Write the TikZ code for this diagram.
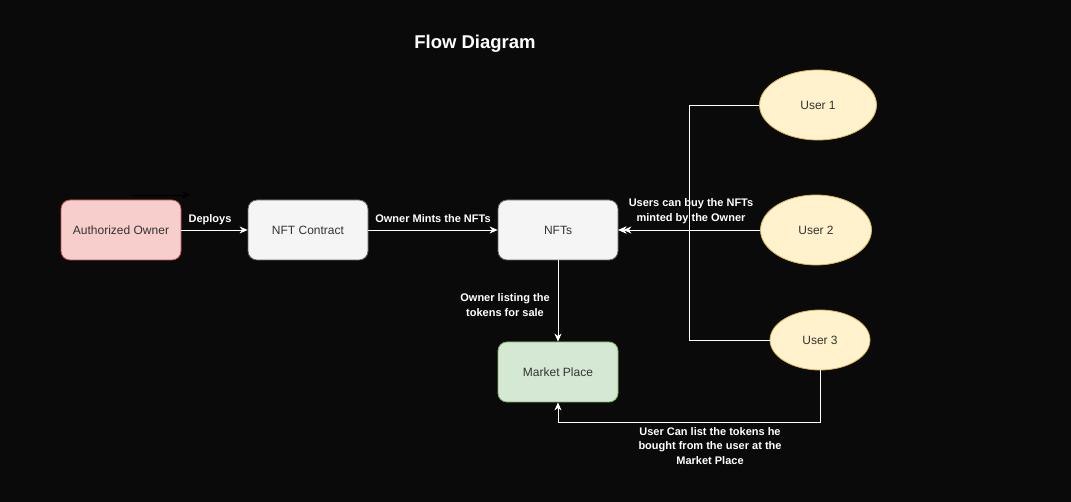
\documentclass[tikz,border=0pt]{standalone}
\usepackage{fontspec}
\setmainfont{Liberation Sans}
\usetikzlibrary{shapes.geometric,arrows.meta}
\definecolor{bg}{HTML}{0A0A0A}
\definecolor{redfill}{HTML}{F8CECC}
\definecolor{redline}{HTML}{B85450}
\definecolor{greyfill}{HTML}{F5F5F5}
\definecolor{greyline}{HTML}{666666}
\definecolor{greenfill}{HTML}{D5E8D4}
\definecolor{greenline}{HTML}{82B366}
\definecolor{yelfill}{HTML}{FFF2CC}
\definecolor{yelline}{HTML}{D6B656}
\definecolor{txt}{HTML}{333333}
\tikzset{
  box/.style={draw, rounded corners=9pt, minimum width=120pt, minimum height=60pt, inner sep=0pt,
    text=txt, font=\fontsize{12}{14}\selectfont, line width=0.8pt},
  redbox/.style={box, fill=redfill, draw=redline},
  greybox/.style={box, fill=greyfill, draw=greyline},
  greenbox/.style={box, fill=greenfill, draw=greenline},
  user/.style={ellipse, draw=yelline, fill=yelfill, inner sep=0pt, text=txt,
    font=\fontsize{12}{14}\selectfont, line width=0.8pt},
  conn/.style={draw=white, line width=0.8pt, -{Stealth[length=8pt,width=7pt,inset=2.5pt]}},
  lbl/.style={text=white, font=\bfseries\fontsize{11}{14.5}\selectfont, align=center, inner sep=1pt},
}
\begin{document}
\begin{tikzpicture}[x=1pt,y=-1pt]
\fill[bg] (0,0) rectangle (1071,502);
\useasboundingbox (0,0) rectangle (1071,502);

\node[text=white, font=\bfseries\fontsize{18.5}{22}\selectfont] (title) at (475,44) {Flow Diagram};

\node[redbox] (owner) at (121,230) {Authorized Owner};
\node[greybox] (contract) at (308,230) {NFT Contract};
\node[greybox] (nfts) at (558,230) {NFTs};
\node[greenbox] (market) at (558,372) {Market Place};

\node[user, minimum width=117pt, minimum height=70pt] (u1) at (818,105) {User 1};
\node[user, minimum width=111pt, minimum height=70pt] (u2) at (816,230) {User 2};
\node[user, minimum width=100pt, minimum height=60pt] (u3) at (820,340) {User 3};

% faint dark arrow above Authorized Owner
\coordinate (da) at (130,195);
\coordinate (db) at (190,195);
\draw[black, line width=0.8pt, -{Stealth[length=8pt,width=7pt,inset=2.5pt]}] (da) -- (db);

\draw[conn] (owner) -- (contract);
\node[lbl] (deploys) at (210,220) {Deploys};

\draw[conn] (contract) -- (nfts);
\node[lbl] (mints) at (433,219) {Owner Mints the NFTs};

\draw[conn] (nfts) -- (market);
\node[lbl] (listing) at (505,305) {Owner listing the\\tokens for sale};

\coordinate (jx) at (689,230);
\draw[conn] (u1.west) -| (jx) -- (nfts.east);
\draw[conn] (u3.west) -| (jx) -- (nfts.east);
\draw[conn] (u2.west) -- ([xshift=5pt]nfts.east);
\node[lbl] (buy) at (691,211) {Users can buy the NFTs\\minted by the Owner};

\coordinate (bl) at (820,422);
\draw[conn] (u3.south) -- (bl) -| (market.south);
\node[lbl] (relist) at (710,446) {User Can list the tokens he\\bought from the user at the\\Market Place};
\end{tikzpicture}
\end{document}
